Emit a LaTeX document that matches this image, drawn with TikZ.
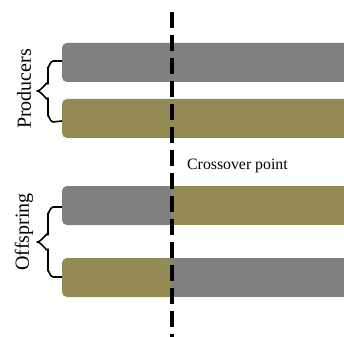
\documentclass[tikz,border=0pt]{standalone}
\usepackage{fontspec}
\setmainfont{Liberation Serif}
\definecolor{bargray}{HTML}{808080}
\definecolor{barolive}{HTML}{948A54}
\begin{document}
\begin{tikzpicture}[x=1pt,y=-1pt,
  bar/.style={inner sep=0pt,outer sep=0pt},
  bracestyle/.style={line width=1.6pt,black,line join=round},
  lbl/.style={font=\fontsize{20}{22}\selectfont,rotate=90,inner sep=0pt},
  cut/.style={line width=4.4pt,black,dash pattern=on 16.5pt off 6.5pt}]
\useasboundingbox (0,0) rectangle (344,336);
% producers
\fill[bargray,rounded corners=5pt] (62,43) rectangle (360,82);
\fill[barolive,rounded corners=5pt] (62,99) rectangle (360,138);
% offspring
\fill[barolive] (168,186) rectangle (360,225);
\fill[bargray,rounded corners=5pt] (62,186) rectangle (172,225);
\fill[bargray] (168,258) rectangle (360,297);
\fill[barolive,rounded corners=5pt] (62,258) rectangle (172,297);
% nodes
\coordinate (p1) at (62,61);
\coordinate (p2) at (62,121);
\coordinate (o1) at (62,207);
\coordinate (o2) at (62,277);
\node[lbl] (prod) at (24,89) {Producers};
\node[lbl] (off) at (24,232) {Offspring};
\node[inner sep=0pt,anchor=base west,font=\fontsize{15.8}{17}\selectfont] (cx) at (187,170) {Crossover point};
\coordinate (ctop) at (171.7,11.7);
\coordinate (cbot) at (171.7,340);
\draw[cut] (ctop) -- (cbot);
% braces
\draw[bracestyle] (p1) -- ++(-9,0) to[out=180,in=-90] ++(-5,6) -- ++(0,17) to[out=90,in=0] ++(-11,7) to[out=0,in=-90] ++(11,7) -- ++(0,18) to[out=90,in=180] ++(5,6) -- (p2);
\draw[bracestyle] (o1) -- ++(-9,0) to[out=180,in=-90] ++(-5,6) -- ++(0,22) to[out=90,in=0] ++(-11,7) to[out=0,in=-90] ++(11,7) -- ++(0,22) to[out=90,in=180] ++(5,6) -- (o2);
\end{tikzpicture}
\end{document}
